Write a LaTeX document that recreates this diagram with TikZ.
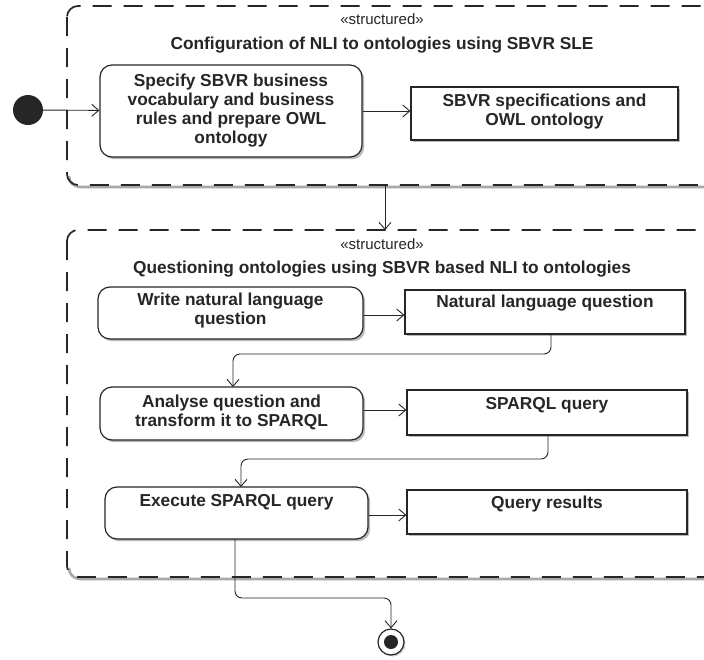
\documentclass[tikz,border=0pt]{standalone}
\usepackage{fontspec}
\setmainfont{Liberation Sans}
\usetikzlibrary{arrows.meta,shadows}

\definecolor{ink}{HTML}{262626}
\definecolor{shade}{HTML}{A8A8A8}

\tikzset{
  x=1pt, y=-1pt,
  frame/.style={draw=ink, line width=1.7pt, dash pattern=on 19pt off 12pt, rounded corners=11pt},
  frameshade/.style={draw=shade, line width=2.6pt, rounded corners=11pt},
  boxshade/.style={drop shadow={shadow xshift=2.2pt, shadow yshift=-2.2pt, fill=shade, opacity=0.8}},
  action/.style={draw=ink, line width=1.2pt, rounded corners=12pt, fill=white, boxshade, inner sep=0pt},
  object/.style={draw=ink, line width=1.2pt, fill=white, boxshade, inner sep=0pt},
  boxtext/.style={font=\bfseries\fontsize{17.3}{19}\selectfont, align=center, text=ink, inner sep=0pt},
  stereo/.style={font=\fontsize{15}{17}\selectfont, text=ink, inner sep=0pt},
  flow/.style={draw=ink, line width=0.9pt, -{Straight Barb[length=7pt,width=12pt]}, rounded corners=7pt},
}

\begin{document}
\begin{tikzpicture}
\useasboundingbox (0,0) rectangle (704,659);
\clip (0,0) rectangle (704,659);
\fill[white] (0,0) rectangle (704,659);

% structured activity frames (they run past the right edge)
\draw[frameshade] (69,176) |- (760,187);
\draw[frame] (67,6) rectangle (760,185);
\draw[frameshade] (69,568) |- (760,579);
\draw[frame] (67,230) rectangle (760,577);

\node[stereo] (st1) at (382,19) {«structured»};
\node[boxtext] (ti1) at (382,45) {Configuration of NLI to ontologies using SBVR SLE};
\node[stereo] (st2) at (382,244) {«structured»};
\node[boxtext] (ti2) at (382,269) {Questioning ontologies using SBVR based NLI to ontologies};

% start and end
\node[circle, fill=ink, minimum size=30pt, inner sep=0pt] (start) at (28,110) {};
\node[circle, draw=ink, line width=1.2pt, fill=white, minimum size=26pt, inner sep=0pt,
      drop shadow={shadow xshift=1.5pt, shadow yshift=-1.5pt, fill=shade, opacity=0.6}] (stop) at (391,642) {};
\node[circle, fill=ink, minimum size=14pt, inner sep=0pt] (stopdot) at (stop.center) {};

% first frame
\node[action, minimum width=262pt, minimum height=92pt] (act1) at (231,111) {};
\node[boxtext] (act1t) at (act1.center) {Specify SBVR business\\vocabulary and business\\rules and prepare OWL\\ontology};
\node[object, minimum width=267pt, minimum height=53pt] (obj1) at (544.5,113.5) {};
\node[boxtext] (obj1t) at (544.5,111.5) {SBVR specifications and\\OWL ontology};

% second frame
\node[action, minimum width=265pt, minimum height=52pt] (act2) at (230.5,313) {};
\node[boxtext] (act2t) at (230.5,311) {Write natural language\\question};
\node[object, minimum width=280pt, minimum height=44pt] (obj2) at (545,312) {};
\node[boxtext] (obj2t) at (545,303) {Natural language question};

\node[action, minimum width=263pt, minimum height=53pt] (act3) at (231.5,413.5) {};
\node[boxtext] (act3t) at (231.5,412) {Analyse question and\\transform it to SPARQL};
\node[object, minimum width=280pt, minimum height=45pt] (obj3) at (547,412.5) {};
\node[boxtext] (obj3t) at (547,405) {SPARQL query};

\node[action, minimum width=263pt, minimum height=52pt] (act4) at (236.5,513) {};
\node[boxtext] (act4t) at (236.5,502) {Execute SPARQL query};
\node[object, minimum width=280pt, minimum height=44pt] (obj4) at (547,512) {};
\node[boxtext] (obj4t) at (547,504) {Query results};

% control and object flows
\draw[flow] (start) -- (act1);
\draw[flow] (act1) -- (act1 -| obj1.west);
\coordinate (f1) at (385,185);
\coordinate (f2) at (385,230);
\draw[flow] (f1) -- (f2);
\draw[flow] (act2.east |- 0,315) -- (obj2.west |- 0,315);
\draw[flow] (551,334) |- (233,354) -- (233,387);
\draw[flow] (act3.east |- 0,410) -- (obj3.west |- 0,410);
\draw[flow] (548,435) |- (241,459) -- (241,487);
\draw[flow] (act4.east |- 0,515) -- (obj4.west |- 0,515);
\draw[flow] (235,539) |- (391,598) -- (stop.north);
\end{tikzpicture}
\end{document}
